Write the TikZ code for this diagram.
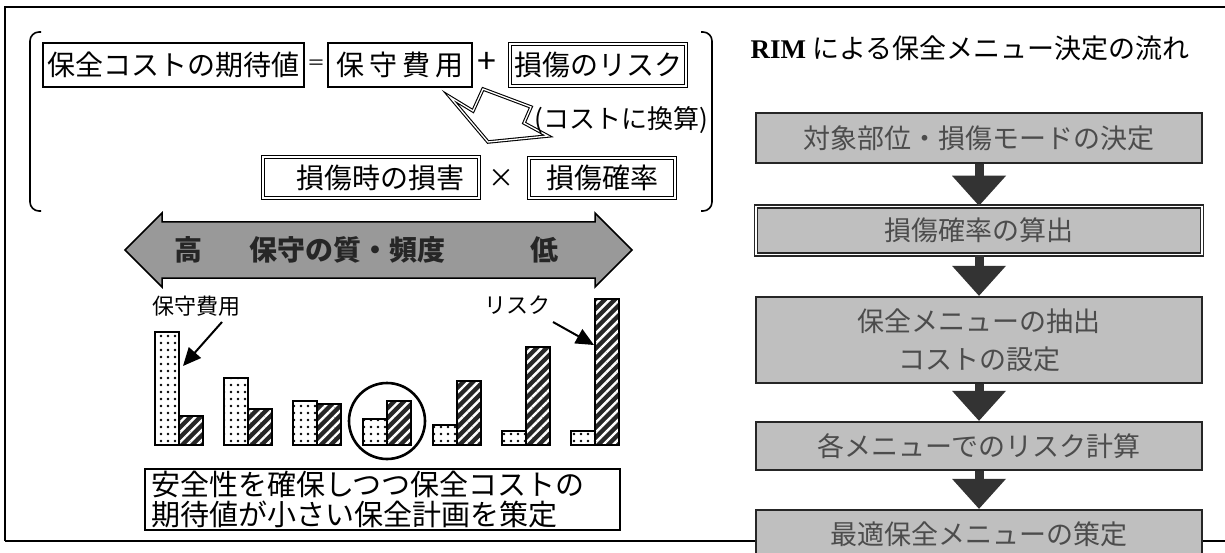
\documentclass[tikz,border=0pt]{standalone}
\usepackage{fontspec}
\setmainfont{Noto Sans CJK JP}
\newfontfamily\rimfont{Liberation Serif}
\usetikzlibrary{patterns.meta,arrows.meta,calc}
\newcommand{\setfs}[1]{\fontsize{#1}{#1}\selectfont}
\begin{document}
\begin{tikzpicture}[x=1pt,y=-1pt,
  sbox/.style={draw=black, line width=1.6pt, inner sep=0pt, font=\setfs{28}},
  dbox/.style={draw=black, line width=1.2pt, double=white, double distance=1.6pt, inner sep=0pt, font=\setfs{28}},
  fbox/.style={draw=black!85, line width=2.4pt, fill=black!25, minimum width=446pt, inner sep=0pt, font=\setfs{27}, text=black!70, align=center},
  arrtext/.style={font=\setfs{28}\bfseries, text=black!85, inner sep=0pt},
  frame/.style={line width=2.2pt},
  bracketline/.style={line width=1.6pt, rounded corners=9pt},
  barline/.style={line width=2.8pt},
  flowc/.style={black!80},
  labelarrow/.style={line width=2pt, -{Triangle[length=18pt,width=16pt]}}
]
\clip (0,0) rectangle (1225,553);
\fill[white] (0,0) rectangle (1225,553);

% frame
\draw[frame] (5,541) |- (1225,7);

% brackets
\draw[bracketline] (41,32) -- (30,32) -- (30,211) -- (41,211);
\draw[bracketline] (701,32) -- (712,32) -- (712,211) -- (701,211);

% row 1
\node[sbox, minimum width=261pt, minimum height=44pt] (A) at (173.5,65) {保全コストの期待値};
\node[font=\setfs{18}, inner sep=0pt] (eq) at (316,65) {＝};
\node[sbox, minimum width=144pt, minimum height=44pt] (B) at (400,65) {\makebox[128pt]{保\hfill 守\hfill 費\hfill 用}};
\node[font=\setfs{34}, inner sep=0pt] (plus) at (487,63) {+};
\node[dbox, minimum width=176pt, minimum height=42pt] (C) at (598,65) {損傷のリスク};

% hollow arrow
\draw[line width=1.1pt, double=white, double distance=1.3pt, fill=white, line join=miter]
  (450,97) -- (473,111) -- (483,89) -- (531,107) -- (524,123) -- (548,136) -- (488,142) -- cycle;
\node[font=\setfs{26}, inner sep=0pt] (conv) at (621,120) {(コストに換算)};

% row 2
\node[dbox, minimum width=216pt, minimum height=41pt] (D) at (371,177.5) {\hspace*{18pt}損傷時の損害};
\node[font=\setfs{26}, inner sep=0pt] (times) at (501,178) {×};
\node[dbox, minimum width=146pt, minimum height=40pt] (E) at (602,178) {損傷確率};

% double-headed arrow
\draw[line width=1.5pt, fill=black!40] (125,250) -- (162,213) -- (162,222) -- (595,222) -- (595,213)
  -- (632,250) -- (595,287) -- (595,278) -- (162,278) -- (162,287) -- cycle;
\node[arrtext] (hi) at (188,250) {高};
\node[arrtext] (qual) at (347,250) {保守の質・頻度};
\node[arrtext] (lo) at (544,250) {低};

% labels
\node[font=\setfs{22}, inner sep=0pt] (lc) at (196,306) {保守費用};
\node[font=\setfs{22}, inner sep=0pt] (lr) at (517,305) {リスク};

% bars
\foreach \x/\a/\b in {155/332/416, 224/378/409, 293/401/404, 363/419/401, 433/425/381, 502/431/347, 571/431/299} {
  \path[preaction={fill=white}, pattern={Dots[distance=7pt,radius=1.3pt]}, pattern color=black]
    (\x,\a) rectangle ({\x+24},445);
  \path[preaction={fill=black!85}, pattern={Lines[angle=45,distance=7pt,line width=2.4pt]}, pattern color=white]
    ({\x+24},\b) rectangle ({\x+48},445);
  \draw[barline] (\x,\a) rectangle ({\x+24},445);
  \draw[barline] ({\x+24},\b) rectangle ({\x+48},445);
}
\coordinate (lcs) at (222,322);
\coordinate (lct) at (183,366);
\coordinate (lrs) at (553,322);
\coordinate (lrt) at (594,345);
\draw[labelarrow] (lcs) -- (lct);
\draw[labelarrow] (lrs) -- (lrt);

\draw[line width=2.6pt] (387,421) circle[radius=38pt];

% conclusion box
\node[draw, line width=1.6pt, minimum width=475pt, minimum height=61pt, inner sep=0pt,
  text width=462pt, align=left, font=\fontsize{29}{30}\selectfont] (G) at (382.5,499.5)
  {安全性を確保しつつ保全コストの\\期待値が小さい保全計画を策定};

% right flow
\node[font=\setfs{27}, inner sep=0pt] (T) at (970,48) {{\rimfont\bfseries RIM} による保全メニュー決定の流れ};
\node[fbox, minimum height=50pt] (b1) at (979,138) {対象部位・損傷モードの決定};
\node[fbox, minimum height=48pt, line width=1.5pt, double=white, double distance=1.5pt] (b2) at (979,230.5) {損傷確率の算出};
\node[fbox, minimum height=86pt, font=\fontsize{27}{38}\selectfont] (b3) at (979,340) {保全メニューの抽出\\コストの設定};
\node[fbox, minimum height=48pt] (b4) at (979,446) {各メニューでのリスク計算};
\node[fbox, minimum height=48pt] (b5) at (979,534) {最適保全メニューの策定};

\foreach \p/\q in {b1/b2, b2/b3, b3/b4, b4/b5} {
  \draw[flowc, line width=9pt] (\p.south) -- ($(\q.north)+(0,-29)$);
  \fill[flowc] ($(\q.north)+(-27,-30)$) -- ($(\q.north)+(27,-30)$) -- (\q.north) -- cycle;
}

% bottom frame line
\draw[frame] (5,541) -- (b5.west |- 0,541);
\draw[frame] (b5.east |- 0,541) -- (1225,541);
\end{tikzpicture}
\end{document}
